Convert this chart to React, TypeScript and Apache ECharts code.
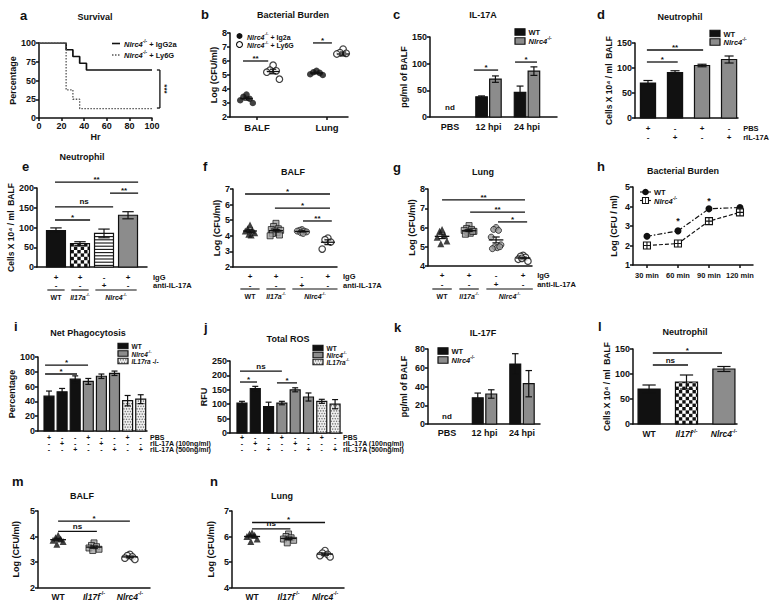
import React, { useEffect, useRef } from 'react';
import * as echarts from 'echarts';

// ======================= DATA =======================
// a — survival (%)
const survivalHoursIgG2a = [0, 24, 30, 36, 42, 100];
const survivalPctIgG2a = [100, 91, 82, 73, 64, 64];
const survivalHoursLy6G = [0, 24, 30, 36, 100];
const survivalPctLy6G = [100, 37.5, 25, 12.5, 12.5];

// b — bacterial burden, log CFU/ml
const burdenSites = ['BALF', 'Lung'];
const burdenIg2aBALF = [3.6, 3.45, 3.3, 3.2, 3.0];
const burdenLy6GBALF = [5.7, 5.35, 5.3, 5.2, 4.7];
const burdenIg2aLung = [5.3, 5.2, 5.15, 5.05, 5.0];
const burdenLy6GLung = [6.85, 6.6, 6.55, 6.5, 6.0];

// c — IL-17A pg/ml of BALF
const il17aTimes = ['PBS', '12 hpi', '24 hpi'];
const il17aDetected = [false, true, true];
const il17aWT = [0, 38, 46];
const il17aWTErr = [0, 1.5, 12];
const il17aNlrc4 = [0, 71, 86];
const il17aNlrc4Err = [0, 6, 8];

// d — neutrophils
const dPBS = ['+', '-', '+', '-'];
const dRIL17A = ['-', '+', '-', '+'];
const dGenotype = ['WT', 'WT', 'Nlrc4', 'Nlrc4'];
const dNeutrophil = [70, 91, 105, 117];
const dNeutrophilErr = [5, 3.5, 2.5, 7];

// e — neutrophils
const eIgG = ['+', '+', '-', '+'];
const eAntiIL17A = ['-', '-', '+', '-'];
const eNeutrophil = [92, 59, 85, 131];
const eNeutrophilErr = [7, 5, 11, 9];

// f — BALF log CFU/ml
const fWT = [4.7, 4.45, 4.35, 4.3, 4.2, 4.1, 4.05];
const fIl17a = [4.8, 4.6, 4.45, 4.4, 4.35, 4.3, 4.2, 4.15, 4.05, 4.0];
const fNlrc4Anti = [4.4, 4.35, 4.3, 4.3, 4.25, 4.2, 4.15];
const fNlrc4IgG = [3.85, 3.75, 3.6, 3.15];

// g — Lung log CFU/ml
const gWT = [5.9, 5.8, 5.6, 5.5, 5.3, 5.15];
const gIl17a = [6.1, 5.95, 5.9, 5.85, 5.8, 5.75, 5.7, 5.65, 5.8];
const gNlrc4Anti = [6.0, 5.9, 5.85, 5.5, 5.1, 5.0, 4.95, 4.9, 5.0];
const gNlrc4IgG = [4.55, 4.5, 4.45, 4.35, 4.25, 4.4];

// h — bacterial burden over time
const hTimes = ['30 min', '60 min', '90 min', '120 min'];
const hWT = [2.47, 2.75, 3.88, 3.95];
const hNlrc4 = [2.0, 2.1, 3.25, 3.7];

// i, j — treatments
const ijPBS = ['+', '-', '-', '+', '-', '-', '+', '-'];
const ij100 = ['-', '+', '-', '-', '+', '-', '-', '-'];
const ij500 = ['-', '-', '+', '-', '-', '+', '-', '+'];
const ijGenotype = ['WT', 'WT', 'WT', 'Nlrc4', 'Nlrc4', 'Nlrc4', 'Il17ra', 'Il17ra'];
const iPhago = [47, 53, 70, 67, 74, 78, 41, 43];
const iPhagoErr = [7, 4.5, 4.5, 4, 3, 3, 7, 6];
const jROS = [104, 154, 92, 104, 150, 125, 110, 100];
const jROSErr = [6, 8, 15, 6, 7, 14, 7, 16];

// k — IL-17F pg/ml
const il17fTimes = ['PBS', '12 hpi', '24 hpi'];
const il17fDetected = [false, true, true];
const il17fWT = [0, 28, 64];
const il17fWTErr = [0, 5, 11];
const il17fNlrc4 = [0, 32, 43];
const il17fNlrc4Err = [0, 4.5, 14];

// l — neutrophils
const lGenotypes = ['WT', 'Il17f', 'Nlrc4'];
const lNeutrophil = [70, 84, 110];
const lNeutrophilErr = [8, 14, 5];

// m — BALF, n — Lung
const mWT = [4.05, 3.95, 3.9, 3.85, 3.8, 3.7];
const mIl17f = [3.75, 3.65, 3.6, 3.55, 3.5, 3.45];
const mNlrc4 = [3.3, 3.25, 3.2, 3.15, 3.1];
const nWT = [6.15, 6.1, 6.05, 6.0, 5.9, 5.8];
const nIl17f = [6.1, 6.0, 5.95, 5.9, 5.85, 5.75];
const nNlrc4 = [5.45, 5.35, 5.3, 5.25, 5.2];

// ======================= STYLE =======================
const FONT = '"Liberation Sans", Arial, Helvetica, sans-serif';
const INK = '#111111';
const GREY = '#8c8c8c';
const JITTER = [0, -1, 1, -2, 2, -0.5, 0.5, -1.5, 1.5, -2.5, 2.5];
type Fill = 'black' | 'grey' | 'checker' | 'hlines' | 'dots';
const GENO_FILL: Record<string, Fill> = { WT: 'black', Nlrc4: 'grey', Il17ra: 'dots' };

function richFor(size: number) {
  const base = { fontFamily: FONT, fontWeight: 'bold', color: INK, fill: INK };
  const s = Math.round(size * 0.62 * 10) / 10;
  return {
    n: { ...base, fontSize: size, lineHeight: size + 2, verticalAlign: 'bottom' },
    i: { ...base, fontStyle: 'italic', fontSize: size, lineHeight: size + 2, verticalAlign: 'bottom' },
    s: { ...base, fontSize: s, lineHeight: s + 1, verticalAlign: 'top' },
  };
}
const gene = (name: string) => `{i|${name}}{s|-/-}`;

function txt(text: string, size: number, align: string, valign: string, rich = false) {
  const s: any = {
    text, fontSize: size, fontWeight: 'bold', fontFamily: FONT, fill: INK,
    align, verticalAlign: valign, textAlign: align, textVerticalAlign: valign,
  };
  if (rich) s.rich = richFor(size);
  return s;
}
const seg = (x1: number, y1: number, x2: number, y2: number, w = 1.3, dash?: number[]) => ({
  type: 'line', shape: { x1, y1, x2, y2 }, style: { stroke: INK, lineWidth: w, lineDash: dash },
});

function patternEls(kind: Fill, x0: number, y0: number, x1: number, y1: number): any[] {
  const w = x1 - x0, h = y1 - y0;
  const els: any[] = [];
  const base = kind === 'black' ? INK : kind === 'grey' ? GREY : kind === 'dots' ? '#eeeeee' : '#ffffff';
  els.push({ type: 'rect', shape: { x: x0, y: y0, width: w, height: h }, style: { fill: base } });
  if (kind === 'checker') {
    const c = 3.4;
    for (let r = 0; y1 - r * c > y0 + 0.01; r++) {
      const bot = y1 - r * c, top = Math.max(y0, bot - c);
      for (let k = 0; x0 + k * c < x1 - 0.01; k++) {
        if ((r + k) % 2) continue;
        const left = x0 + k * c, right = Math.min(x1, left + c);
        els.push({ type: 'rect', shape: { x: left, y: top, width: right - left, height: bot - top }, style: { fill: INK } });
      }
    }
  } else if (kind === 'hlines') {
    for (let yy = y1 - 1.6; yy > y0 + 0.8; yy -= 3.2) els.push(seg(x0, yy, x1, yy, 1.1));
  } else if (kind === 'dots') {
    const s = 2.6;
    let r = 0;
    for (let yy = y1 - 1.3; yy > y0 + 0.6; yy -= s, r++) {
      for (let xx = x0 + 1.3 + (r % 2) * s / 2; xx < x1 - 0.6; xx += s) {
        els.push({ type: 'circle', shape: { cx: xx, cy: yy, r: 0.7 }, style: { fill: '#777777' } });
      }
    }
  }
  els.push({ type: 'rect', shape: { x: x0, y: y0, width: w, height: h }, style: { fill: 'none', stroke: INK, lineWidth: 1.2 } });
  return els;
}

// ======================= OPTION =======================
function buildOption() {
  const grid: any[] = [], xAxis: any[] = [], yAxis: any[] = [], series: any[] = [], graphic: any[] = [];
  const lineStyle = { color: INK, width: 1.5 };
  const tf = { fontFamily: FONT, fontWeight: 'bold', color: INK };

  function addPanel(c: any): number {
    const idx = grid.length;
    grid.push({ left: c.grid[0], top: c.grid[1], width: c.grid[2], height: c.grid[3] });
    const vals: number[] = c.xLabelValues || [];
    const findIdx = (v: number) => vals.findIndex((u) => Math.abs(u - v) < 1e-6);
    let axisLabel: any = { show: false };
    if (c.xInterval) axisLabel = { ...tf, fontSize: 9, margin: 3 };
    else if (c.xLabelValues) {
      axisLabel = {
        show: true, customValues: vals, ...tf, fontSize: c.xLabelSize, margin: c.xLabelMargin,
        lineHeight: c.xLabelLH || c.xLabelSize + 2, hideOverlap: false,
        formatter: (v: number) => { const i = findIdx(v); return i < 0 ? '' : c.xLabelFmt(i); },
      };
      if (c.xRich) axisLabel.rich = richFor(c.xLabelSize);
    }
    xAxis.push({
      type: 'value', gridIndex: idx, min: c.x[0], max: c.x[1],
      ...(c.xInterval ? { interval: c.xInterval } : {}),
      name: c.xName || '', nameLocation: 'middle', nameGap: 14.5,
      nameTextStyle: { ...tf, fontSize: 9 },
      splitLine: { show: false },
      axisLine: { show: true, onZero: false, lineStyle },
      axisTick: c.xInterval
        ? { show: true, length: 3, lineStyle }
        : c.xTicks ? { show: true, length: 3, customValues: c.xTicks, lineStyle } : { show: false },
      axisLabel,
    });
    yAxis.push({
      type: 'value', gridIndex: idx, min: c.y[0], max: c.y[1], interval: c.y[2],
      name: c.yName, nameLocation: 'middle', nameGap: c.yNameGap, nameRotate: 90,
      nameTextStyle: { ...tf, fontSize: c.yNameSize || 9 },
      splitLine: { show: false },
      axisLine: { show: true, onZero: false, lineStyle },
      axisTick: { show: true, length: 3, lineStyle },
      axisLabel: { ...tf, fontSize: 9, margin: 3 },
    });
    return idx;
  }

  function bars(idx: number, yBase: number, specs: { x: number; v: number; err: number; fill: Fill; w: number }[]) {
    series.push({
      type: 'custom', xAxisIndex: idx, yAxisIndex: idx, clip: false, silent: true, z: 3,
      data: specs.map((s) => [s.x, s.v]),
      renderItem: (params: any, api: any) => {
        const s = specs[params.dataIndex];
        const pl = api.coord([s.x - s.w / 2, yBase]);
        const pr = api.coord([s.x + s.w / 2, s.v]);
        const children = patternEls(s.fill, pl[0], pr[1], pr[0], pl[1]);
        if (s.err > 0) {
          const pt = api.coord([s.x, s.v + s.err]);
          const pb = api.coord([s.x, s.v - s.err]);
          const cl = api.coord([s.x - s.w * 0.3, s.v])[0];
          const cr = api.coord([s.x + s.w * 0.3, s.v])[0];
          children.push(seg(pt[0], pt[1], pb[0], pb[1], 1.2), seg(cl, pt[1], cr, pt[1], 1.2), seg(cl, pb[1], cr, pb[1], 1.2));
        }
        return { type: 'group', children };
      },
    });
  }

  function dots(idx: number, pos: number, vals: number[], spread: number, kind: string, size = 6) {
    const sty: any =
      kind === 'tri' ? { symbol: 'triangle', itemStyle: { color: INK } }
      : kind === 'fill' ? { symbol: 'circle', itemStyle: { color: INK } }
      : kind === 'sq' ? { symbol: 'rect', itemStyle: { color: '#a0a0a0', borderColor: INK, borderWidth: 0.9 } }
      : kind === 'stripe' ? { symbol: 'circle', itemStyle: { color: '#9a9a9a', borderColor: INK, borderWidth: 0.9 } }
      : { symbol: 'circle', itemStyle: { color: '#ffffff', borderColor: INK, borderWidth: 1.2 } };
    series.push({
      type: 'scatter', xAxisIndex: idx, yAxisIndex: idx, silent: true, symbolSize: size, z: 3, ...sty,
      data: vals.map((v, k) => [pos + JITTER[k % JITTER.length] * spread, v]),
    });
  }

  function meanSem(idx: number, items: { x: number; vals: number[]; hw: number }[]) {
    const st = items.map((it) => {
      const n = it.vals.length;
      const m = it.vals.reduce((a, b) => a + b, 0) / n;
      const sd = Math.sqrt(it.vals.reduce((a, b) => a + (b - m) * (b - m), 0) / (n - 1));
      return { x: it.x, m, sem: sd / Math.sqrt(n), hw: it.hw };
    });
    series.push({
      type: 'custom', xAxisIndex: idx, yAxisIndex: idx, clip: false, silent: true, z: 5,
      data: st.map((s) => [s.x, s.m]),
      renderItem: (params: any, api: any) => {
        const s = st[params.dataIndex];
        const l = api.coord([s.x - s.hw, s.m]), r = api.coord([s.x + s.hw, s.m]);
        const t = api.coord([s.x, s.m + s.sem]), b = api.coord([s.x, s.m - s.sem]);
        const cl = api.coord([s.x - s.hw * 0.5, s.m])[0], cr = api.coord([s.x + s.hw * 0.5, s.m])[0];
        return {
          type: 'group',
          children: [seg(l[0], l[1], r[0], r[1], 1.3), seg(t[0], t[1], b[0], b[1], 1.2), seg(cl, t[1], cr, t[1], 1.2), seg(cl, b[1], cr, b[1], 1.2)],
        };
      },
    });
  }

  function ann(idx: number, yMin: number, list: any[]) {
    series.push({
      type: 'custom', xAxisIndex: idx, yAxisIndex: idx, clip: false, silent: true, z: 6,
      data: list.map((a) => [a.x ?? a.x1, a.y ?? a.y1 ?? yMin]),
      renderItem: (params: any, api: any) => {
        const a = list[params.dataIndex];
        if (a.t === 'sig') {
          const p1 = api.coord([a.x1, a.y]), p2 = api.coord([a.x2, a.y]);
          return {
            type: 'group',
            children: [
              seg(p1[0], p1[1], p2[0], p2[1], 1.3),
              { type: 'text', x: (p1[0] + p2[0]) / 2, y: p1[1] - (a.text === 'ns' ? 1 : -1.5), style: txt(a.text, 8, 'center', 'bottom') },
            ],
          };
        }
        if (a.t === 'text') {
          const p = api.coord([a.x, a.y]);
          return { type: 'text', x: p[0], y: p[1], style: txt(a.text, a.size || 8, 'center', 'middle') };
        }
        if (a.t === 'rows') {
          const p = api.coord([a.x, yMin]);
          return {
            type: 'group',
            children: a.lines.map((ln: string, k: number) => ({ type: 'text', x: p[0], y: p[1] + a.dy + k * a.lh, style: txt(ln, a.size, 'left', 'middle') })),
          };
        }
        if (a.t === 'under') {
          const p1 = api.coord([a.x1, yMin]), p2 = api.coord([a.x2, yMin]);
          const yy = p1[1] + a.dy;
          return {
            type: 'group',
            children: [
              seg(p1[0], yy, p2[0], yy, 1.1),
              { type: 'text', x: (p1[0] + p2[0]) / 2, y: yy + 6.5, style: txt(a.label, 7, 'center', 'middle', true) },
            ],
          };
        }
        if (a.t === 'vsig') {
          const p1 = api.coord([a.x, a.y1]), p2 = api.coord([a.x, a.y2]);
          return {
            type: 'group',
            children: [
              seg(p1[0], p1[1], p2[0], p2[1], 1.3),
              seg(p1[0] - 3, p1[1], p1[0], p1[1], 1.3),
              seg(p2[0] - 3, p2[1], p2[0], p2[1], 1.3),
              { type: 'text', x: p1[0] + 5, y: (p1[1] + p2[1]) / 2, rotation: -Math.PI / 2, style: txt(a.text, 8, 'center', 'middle') },
            ],
          };
        }
        return null;
      },
    });
  }

  const underGroups = (names: [number, number, string][], pad: number, dy: number) =>
    names.map(([from, to, label]) => ({ t: 'under', x1: from - pad, x2: to + pad, label, dy }));
  const geneLabel = (g: string) => (g === 'WT' ? '{n|WT}' : gene(g));

  // ---------- a ----------
  const A = addPanel({ grid: [39, 43, 113, 75], x: [0, 100], xInterval: 20, xName: 'Hr', y: [0, 100, 25], yName: 'Percentage', yNameGap: 19 });
  series.push({
    type: 'line', xAxisIndex: A, yAxisIndex: A, step: 'end', symbol: 'none', silent: true,
    data: survivalHoursIgG2a.map((h, i) => [h, survivalPctIgG2a[i]]), lineStyle: { color: INK, width: 1.7 },
  });
  series.push({
    type: 'line', xAxisIndex: A, yAxisIndex: A, step: 'end', symbol: 'none', silent: true,
    data: survivalHoursLy6G.map((h, i) => [h, survivalPctLy6G[i]]), lineStyle: { color: '#555555', width: 1.3, type: [1.5, 1.5] },
  });
  ann(A, 0, [{ t: 'vsig', x: 107, y1: 64, y2: 13.3, text: '***' }]);

  // ---------- b ----------
  const B = addPanel({
    grid: [230, 33, 118, 84], x: [-0.386, 1.3], xTicks: [0, 1], xLabelValues: [0, 1], xLabelFmt: (i: number) => burdenSites[i],
    xLabelSize: 9.5, xLabelMargin: 5, y: [2, 8, 1], yName: 'Log (CFU/ml)', yNameGap: 10,
  });
  dots(B, -0.15, burdenIg2aBALF, 0.045, 'fill', 6.5);
  dots(B, 0.23, burdenLy6GBALF, 0.045, 'open', 6.5);
  dots(B, 0.85, burdenIg2aLung, 0.045, 'fill', 6.5);
  dots(B, 1.23, burdenLy6GLung, 0.045, 'open', 6.5);
  meanSem(B, [
    { x: -0.15, vals: burdenIg2aBALF, hw: 0.09 }, { x: 0.23, vals: burdenLy6GBALF, hw: 0.09 },
    { x: 0.85, vals: burdenIg2aLung, hw: 0.09 }, { x: 1.23, vals: burdenLy6GLung, hw: 0.09 },
  ]);
  ann(B, 2, [
    { t: 'sig', x1: -0.2, x2: 0.16, y: 6.0, text: '**' },
    { t: 'sig', x1: 0.8, x2: 1.07, y: 7.29, text: '*' },
  ]);

  // ---------- c ----------
  const C = addPanel({
    grid: [430, 37, 127, 80], x: [-0.52, 2.78], xLabelValues: [0, 1, 2], xLabelFmt: (i: number) => il17aTimes[i],
    xLabelSize: 9, xLabelMargin: 4, y: [0, 150, 50], yName: 'pg/ml of BALF', yNameGap: 13,
  });
  const cBars: any[] = [];
  il17aTimes.forEach((_, i) => {
    if (!il17aDetected[i]) return;
    cBars.push({ x: i - 0.18, v: il17aWT[i], err: il17aWTErr[i], fill: 'black', w: 0.3 });
    cBars.push({ x: i + 0.18, v: il17aNlrc4[i], err: il17aNlrc4Err[i], fill: 'grey', w: 0.3 });
  });
  bars(C, 0, cBars);
  ann(C, 0, [
    { t: 'sig', x1: 0.62, x2: 1.25, y: 88, text: '*' },
    { t: 'sig', x1: 1.69, x2: 2.26, y: 103, text: '*' },
    { t: 'text', x: 0, y: 17, text: 'nd', size: 8 },
  ]);

  // ---------- d ----------
  const D = addPanel({
    grid: [635, 43, 103, 75], x: [-0.48, 3.33], xLabelValues: [0, 1, 2, 3], xLabelFmt: (i: number) => `${dPBS[i]}\n${dRIL17A[i]}`,
    xLabelSize: 8, xLabelMargin: 6, xLabelLH: 9, y: [0, 150, 50], yName: 'Cells X 10⁴ / ml  BALF', yNameGap: 22, yNameSize: 8.5,
  });
  bars(D, 0, dNeutrophil.map((v, i) => ({ x: i, v, err: dNeutrophilErr[i], fill: GENO_FILL[dGenotype[i]], w: 0.56 })));
  ann(D, 0, [
    { t: 'sig', x1: -0.04, x2: 2.04, y: 136, text: '**' },
    { t: 'sig', x1: -0.04, x2: 1.1, y: 112, text: '*' },
    { t: 'rows', x: 3.52, lines: ['PBS', 'rIL-17A'], dy: 10, lh: 9, size: 7.5 },
  ]);

  // ---------- e ----------
  const E = addPanel({
    grid: [37, 188, 110, 79], x: [-0.79, 3.79], xLabelValues: [0, 1, 2, 3], xLabelFmt: (i: number) => `${eIgG[i]}\n${eAntiIL17A[i]}`,
    xLabelSize: 8, xLabelMargin: 6, xLabelLH: 8, y: [0, 200, 50], yName: 'Cells X 10⁴ / ml  BALF', yNameGap: 21, yNameSize: 8.5,
  });
  const eFills: Fill[] = ['black', 'checker', 'hlines', 'grey'];
  bars(E, 0, eNeutrophil.map((v, i) => ({ x: i, v, err: eNeutrophilErr[i], fill: eFills[i], w: 0.79 })));
  ann(E, 0, [
    { t: 'sig', x1: -0.04, x2: 3.42, y: 215, text: '**' },
    { t: 'sig', x1: 2.25, x2: 3.42, y: 187, text: '**' },
    { t: 'sig', x1: -0.04, x2: 2.38, y: 152, text: 'ns' },
    { t: 'sig', x1: -0.04, x2: 1.42, y: 119, text: '*' },
    { t: 'rows', x: 4.04, lines: ['IgG', 'anti-IL-17A'], dy: 10, lh: 8, size: 7.5 },
    ...underGroups([[0, 0, '{n|WT}'], [1, 1, gene('Il17a')], [2, 3, gene('Nlrc4')]], 0.36, 23),
  ]);

  // ---------- f ----------
  const F = addPanel({
    grid: [233, 189, 104, 78], x: [-0.654, 3.35], xLabelValues: [0, 1, 2, 3], xLabelFmt: (i: number) => `${eIgG[i]}\n${eAntiIL17A[i]}`,
    xLabelSize: 8, xLabelMargin: 5, xLabelLH: 9, y: [2, 7, 1], yName: 'Log (CFU/ml)', yNameGap: 10,
  });
  dots(F, 0, fWT, 0.09, 'tri', 7);
  dots(F, 1, fIl17a, 0.09, 'sq', 6);
  dots(F, 2, fNlrc4Anti, 0.09, 'stripe', 6);
  dots(F, 3, fNlrc4IgG, 0.11, 'open', 6.5);
  meanSem(F, [
    { x: 0, vals: fWT, hw: 0.27 }, { x: 1, vals: fIl17a, hw: 0.27 },
    { x: 2, vals: fNlrc4Anti, hw: 0.27 }, { x: 3, vals: fNlrc4IgG, hw: 0.27 },
  ]);
  ann(F, 2, [
    { t: 'sig', x1: -0.19, x2: 3.08, y: 6.68, text: '*' },
    { t: 'sig', x1: 0.96, x2: 3.08, y: 5.78, text: '*' },
    { t: 'sig', x1: 2.04, x2: 3.15, y: 4.95, text: '**' },
    { t: 'rows', x: 3.58, lines: ['IgG', 'anti-IL-17A'], dy: 9.5, lh: 9, size: 7.5 },
    ...underGroups([[0, 0, '{n|WT}'], [1, 1, gene('Il17a')], [2, 3, gene('Nlrc4')]], 0.37, 22),
  ]);

  // ---------- g ----------
  const Gp = addPanel({
    grid: [428, 189, 104, 77], x: [-0.52, 3.33], xLabelValues: [0, 1, 2, 3], xLabelFmt: (i: number) => `${eIgG[i]}\n${eAntiIL17A[i]}`,
    xLabelSize: 8, xLabelMargin: 5, xLabelLH: 9, y: [4, 8, 1], yName: 'Log (CFU/ml)', yNameGap: 11,
  });
  dots(Gp, 0, gWT, 0.09, 'tri', 7);
  dots(Gp, 1, gIl17a, 0.09, 'sq', 6);
  dots(Gp, 2, gNlrc4Anti, 0.09, 'stripe', 6);
  dots(Gp, 3, gNlrc4IgG, 0.09, 'open', 6.5);
  meanSem(Gp, [
    { x: 0, vals: gWT, hw: 0.27 }, { x: 1, vals: gIl17a, hw: 0.27 },
    { x: 2, vals: gNlrc4Anti, hw: 0.27 }, { x: 3, vals: gNlrc4IgG, hw: 0.27 },
  ]);
  ann(Gp, 4, [
    { t: 'sig', x1: 0, x2: 3.07, y: 7.43, text: '**' },
    { t: 'sig', x1: 1.04, x2: 3.07, y: 6.8, text: '**' },
    { t: 'sig', x1: 2.07, x2: 3.15, y: 6.29, text: '*' },
    { t: 'rows', x: 3.52, lines: ['IgG', 'anti-IL-17A'], dy: 9.5, lh: 9, size: 7.5 },
    ...underGroups([[0, 0, '{n|WT}'], [1, 1, gene('Il17a')], [2, 3, gene('Nlrc4')]], 0.36, 23),
  ]);

  // ---------- h ----------
  const H = addPanel({
    grid: [633, 187, 120, 78], x: [-0.45, 3.42], xTicks: [0, 1, 2, 3], xLabelValues: [0, 1, 2, 3], xLabelFmt: (i: number) => hTimes[i],
    xLabelSize: 7.5, xLabelMargin: 6, y: [1, 5, 1], yName: 'Log (CFU / ml)', yNameGap: 15,
  });
  series.push({
    type: 'line', xAxisIndex: H, yAxisIndex: H, silent: true, symbol: 'circle', symbolSize: 7, z: 4,
    data: hWT.map((v, i) => [i, v]), itemStyle: { color: INK }, lineStyle: { color: INK, width: 1.2, type: [5, 2, 1.5, 2] },
  });
  series.push({
    type: 'line', xAxisIndex: H, yAxisIndex: H, silent: true, symbol: 'path://M0 0H10V10H0Z M5 0V10 M0 5H10', symbolSize: 7, z: 4,
    data: hNlrc4.map((v, i) => [i, v]), itemStyle: { color: '#ffffff', borderColor: INK, borderWidth: 1.1 },
    lineStyle: { color: INK, width: 1.2, type: [4, 2] },
  });
  ann(H, 1, [
    { t: 'text', x: 1, y: 3.25, text: '*', size: 9 },
    { t: 'text', x: 2, y: 4.27, text: '*', size: 9 },
  ]);

  // ---------- i ----------
  const I = addPanel({
    grid: [38, 357, 109, 74], x: [-0.84, 7.48], xLabelValues: [0, 1, 2, 3, 4, 5, 6, 7],
    xLabelFmt: (i: number) => `${ijPBS[i]}\n${ij100[i]}\n${ij500[i]}`, xLabelSize: 7, xLabelMargin: 3, xLabelLH: 6,
    y: [0, 100, 20], yName: 'Percentage', yNameGap: 18,
  });
  bars(I, 0, iPhago.map((v, i) => ({ x: i, v, err: iPhagoErr[i], fill: GENO_FILL[ijGenotype[i]], w: 0.76 })));
  ann(I, 0, [
    { t: 'sig', x1: -0.3, x2: 2.98, y: 89, text: '*' },
    { t: 'sig', x1: -0.3, x2: 2.14, y: 77, text: '*' },
    { t: 'rows', x: 7.71, lines: ['PBS', 'rIL-17A (100ng/ml)', 'rIL-17A (500ng/ml)'], dy: 6, lh: 6, size: 7 },
  ]);

  // ---------- j ----------
  const J = addPanel({
    grid: [230, 361, 112, 72], x: [-0.9, 7.52], xLabelValues: [0, 1, 2, 3, 4, 5, 6, 7],
    xLabelFmt: (i: number) => `${ijPBS[i]}\n${ij100[i]}\n${ij500[i]}`, xLabelSize: 7, xLabelMargin: 1, xLabelLH: 6,
    y: [0, 250, 50], yName: 'RFU', yNameGap: 15,
  });
  bars(J, 0, jROS.map((v, i) => ({ x: i, v, err: jROSErr[i], fill: GENO_FILL[ijGenotype[i]], w: 0.75 })));
  ann(J, 0, [
    { t: 'sig', x1: -0.15, x2: 3.0, y: 215, text: 'ns' },
    { t: 'sig', x1: -0.15, x2: 1.13, y: 177, text: '*' },
    { t: 'sig', x1: 2.63, x2: 4.14, y: 174, text: '*' },
    { t: 'rows', x: 7.6, lines: ['PBS', 'rIL-17A (100ng/ml)', 'rIL-17A (500ng/ml)'], dy: 4, lh: 6, size: 7 },
  ]);

  // ---------- k ----------
  const K = addPanel({
    grid: [428, 349, 112, 75], x: [-0.507, 2.48], xLabelValues: [0, 1, 2], xLabelFmt: (i: number) => il17fTimes[i],
    xLabelSize: 9, xLabelMargin: 3, y: [0, 80, 20], yName: 'pg/ml of BALF', yNameGap: 20,
  });
  const kBars: any[] = [];
  il17fTimes.forEach((_, i) => {
    if (!il17fDetected[i]) return;
    kBars.push({ x: i - 0.18, v: il17fWT[i], err: il17fWTErr[i], fill: 'black', w: 0.29 });
    kBars.push({ x: i + 0.18, v: il17fNlrc4[i], err: il17fNlrc4Err[i], fill: 'grey', w: 0.29 });
  });
  bars(K, 0, kBars);
  ann(K, 0, [{ t: 'text', x: 0, y: 7.5, text: 'nd', size: 8 }]);

  // ---------- l ----------
  const L = addPanel({
    grid: [633, 349, 104, 75], x: [-0.43, 2.35], xLabelValues: [0, 1, 2], xLabelFmt: (i: number) => geneLabel(lGenotypes[i]), xRich: true,
    xLabelSize: 8.5, xLabelMargin: 4, y: [0, 150, 50], yName: 'Cells X 10⁴ / ml  BALF', yNameGap: 21, yNameSize: 8.5,
  });
  const lFills: Fill[] = ['black', 'checker', 'grey'];
  bars(L, 0, lNeutrophil.map((v, i) => ({ x: i, v, err: lNeutrophilErr[i], fill: lFills[i], w: 0.59 })));
  ann(L, 0, [
    { t: 'sig', x1: 0.1, x2: 1.95, y: 142, text: '*' },
    { t: 'sig', x1: 0.1, x2: 1.04, y: 118, text: 'ns' },
  ]);

  // ---------- m ----------
  const M = addPanel({
    grid: [38, 511, 112, 77], x: [-0.56, 2.56], xLabelValues: [0, 1, 2], xLabelFmt: (i: number) => geneLabel(lGenotypes[i]), xRich: true,
    xLabelSize: 8.5, xLabelMargin: 3, y: [2, 5, 1], yName: 'Log (CFU/ml)', yNameGap: 18,
  });
  dots(M, 0, mWT, 0.07, 'tri', 7);
  dots(M, 1, mIl17f, 0.07, 'sq', 6);
  dots(M, 2, mNlrc4, 0.07, 'open', 6.5);
  meanSem(M, [{ x: 0, vals: mWT, hw: 0.22 }, { x: 1, vals: mIl17f, hw: 0.22 }, { x: 2, vals: mNlrc4, hw: 0.22 }]);
  ann(M, 2, [
    { t: 'sig', x1: 0, x2: 2, y: 4.6, text: '*' },
    { t: 'sig', x1: 0, x2: 1.08, y: 4.2, text: 'ns' },
  ]);

  // ---------- n ----------
  const N = addPanel({
    grid: [232, 511, 112, 77], x: [-0.55, 2.52], xLabelValues: [0, 1, 2], xLabelFmt: (i: number) => geneLabel(lGenotypes[i]), xRich: true,
    xLabelSize: 8.5, xLabelMargin: 3, y: [4, 7, 1], yName: 'Log (CFU/ml)', yNameGap: 17,
  });
  dots(N, 0, nWT, 0.07, 'tri', 7);
  dots(N, 1, nIl17f, 0.07, 'sq', 6);
  dots(N, 2, nNlrc4, 0.07, 'open', 6.5);
  meanSem(N, [{ x: 0, vals: nWT, hw: 0.22 }, { x: 1, vals: nIl17f, hw: 0.22 }, { x: 2, vals: nNlrc4, hw: 0.22 }]);
  ann(N, 4, [
    { t: 'sig', x1: 0, x2: 2, y: 6.55, text: '*' },
    { t: 'sig', x1: 0, x2: 1.05, y: 6.3, text: 'ns' },
  ]);

  // ---------- titles & panel letters ----------
  const titles: [string, number, number][] = [
    ['Survival', 95, 17], ['Bacterial Burden', 293, 15], ['IL-17A', 483, 15], ['Neutrophil', 680, 17],
    ['Neutrophil', 82, 157], ['BALF', 293, 172], ['Lung', 483, 172], ['Bacterial Burden', 683, 171],
    ['Net Phagocytosis', 88, 333], ['Total ROS', 288, 339], ['IL-17F', 483, 333], ['Neutrophil', 685, 332],
    ['BALF', 82, 496], ['Lung', 282, 496],
  ];
  titles.forEach(([t, x, y]) => graphic.push({ type: 'text', x, y, silent: true, style: txt(t, 9, 'center', 'middle') }));
  const letters: [string, number, number][] = [
    ['a', 20, 15], ['b', 201, 14], ['c', 393, 14], ['d', 597, 14],
    ['e', 22, 166], ['f', 203, 166], ['g', 393, 167], ['h', 597, 166],
    ['i', 14, 326], ['j', 204, 327], ['k', 394, 327], ['l', 598, 326],
    ['m', 12, 481], ['n', 210, 481],
  ];
  letters.forEach(([t, x, y]) => graphic.push({ type: 'text', x, y, silent: true, style: txt(t, 13, 'left', 'middle') }));

  // ---------- legends ----------
  const legText = (x: number, y: number, t: string, size = 7) => ({ type: 'text', x, y, silent: true, style: txt(t, size, 'left', 'middle', true) });
  const swatch = (x: number, yc: number, w: number, h: number, fill: Fill, label: string, size = 7) => [
    ...patternEls(fill, x, yc - h / 2, x + w, yc + h / 2), legText(x + w + 3.5, yc, label, size),
  ];
  // a
  graphic.push(seg(112, 43.5, 120, 43.5, 1.6), legText(124, 43.5, `${gene('Nlrc4')}{n| + IgG2a}`, 7.5));
  graphic.push({ type: 'line', shape: { x1: 112, y1: 55, x2: 120, y2: 55 }, style: { stroke: '#555555', lineWidth: 1.3, lineDash: [1.5, 1.5] } });
  graphic.push(legText(124, 55, `${gene('Nlrc4')}{n| + Ly6G}`, 7.5));
  // b
  graphic.push({ type: 'circle', shape: { cx: 239.5, cy: 36, r: 3 }, style: { fill: INK } }, legText(247, 36, `${gene('Nlrc4')}{n| + Ig2a}`));
  graphic.push({ type: 'circle', shape: { cx: 239.5, cy: 44.5, r: 3 }, style: { fill: '#fff', stroke: INK, lineWidth: 1.1 } }, legText(247, 44.5, `${gene('Nlrc4')}{n| + Ly6G}`));
  // c
  graphic.push(...swatch(515, 32, 10, 6.5, 'black', '{n|WT}', 7.5), ...swatch(515, 41, 10, 6.5, 'grey', gene('Nlrc4'), 7.5));
  // d
  graphic.push(...swatch(710, 33.5, 10, 6.5, 'black', '{n|WT}', 7.5), ...swatch(710, 42, 10, 6.5, 'grey', gene('Nlrc4'), 7.5));
  // h
  graphic.push(seg(640, 192, 651, 192, 1.1), { type: 'circle', shape: { cx: 645.5, cy: 192, r: 3.3 }, style: { fill: INK } }, legText(654, 192, '{n|WT}', 7.5));
  graphic.push(seg(640, 200.5, 651, 200.5, 1.1), { type: 'rect', shape: { x: 642.5, y: 197.5, width: 6, height: 6 }, style: { fill: '#fff', stroke: INK, lineWidth: 1.1 } });
  graphic.push(seg(645.5, 197.5, 645.5, 203.5, 0.8), legText(654, 200.5, gene('Nlrc4'), 7.5));
  // i
  graphic.push(...swatch(118, 346, 10, 5.5, 'black', '{n|WT}', 6.5), ...swatch(118, 353.5, 10, 5.5, 'grey', gene('Nlrc4'), 6.5),
    ...swatch(118, 361, 10, 5.5, 'dots', '{i|IL17ra}{n| -/-}', 6.5));
  // j
  graphic.push(...swatch(313, 348, 10, 5.5, 'black', '{n|WT}', 6.5), ...swatch(313, 355, 10, 5.5, 'grey', gene('Nlrc4'), 6.5),
    ...swatch(313, 362, 10, 5.5, 'dots', gene('IL17ra'), 6.5));
  // k
  graphic.push(...swatch(438, 351, 10, 6.5, 'black', '{n|WT}', 7.5), ...swatch(438, 360, 10, 6.5, 'grey', gene('Nlrc4'), 7.5));

  return { animation: false, backgroundColor: '#ffffff', grid, xAxis, yAxis, series, graphic };
}

export default function App() {
  const ref = useRef<HTMLDivElement>(null);
  useEffect(() => {
    if (!ref.current) return;
    const chart = echarts.init(ref.current, undefined, { renderer: 'svg', width: 775, height: 601 });
    chart.setOption(buildOption() as any);
    return () => chart.dispose();
  }, []);
  return <div ref={ref} style={{ position: 'fixed', left: 0, top: 0, width: 775, height: 601, background: '#fff' }} />;
}
